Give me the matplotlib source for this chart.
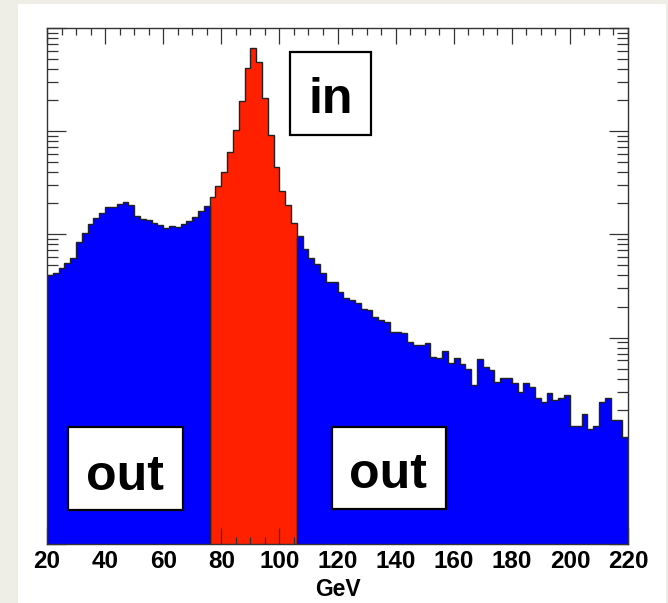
import numpy as np
import matplotlib

matplotlib.use("Agg")
import matplotlib.pyplot as plt
from matplotlib.patches import Rectangle

#####################################################
# data: invariant mass histogram, 2 GeV bins from 20 to 220 GeV
#####################################################

bin_lo = 20
bin_hi = 220
bin_width = 2

counts = [
    404, 425, 476, 525, 595, 850, 1040, 1253, 1432, 1623,
    1855, 1855, 1971, 2047, 1927, 1518, 1400, 1370, 1282, 1225,
    1161, 1206, 1188, 1253, 1340, 1484, 1686, 1898, 2318, 2944,
    4053, 6287, 10270, 19630, 41230, 63560, 47120, 21130, 9190, 4467,
    2635, 1915, 1282, 971, 722, 587, 517, 420, 348, 348,
    279, 240, 231, 215, 189, 185, 160, 148, 143, 113,
    113, 110, 91, 84, 84, 89, 65, 64, 74, 57,
    63, 55, 50, 35, 62, 52, 49, 37, 41, 41,
    36, 30, 36, 33, 26, 24, 29, 25, 26, 28,
    14, 14, 18, 13, 14, 24, 26, 16, 16, 11,
]

# mass window
win_lo = 76
win_hi = 106

x_ticks = [20, 40, 60, 80, 100, 120, 140, 160, 180, 200, 220]
x_label = "GeV"

box_texts = ["in", "out", "out"]

#####################################################
# plot
#####################################################

plt.rcParams["font.family"] = ["Liberation Sans", "DejaVu Sans"]

counts = np.array(counts, dtype=float)
edges = np.arange(bin_lo, bin_hi + bin_width, bin_width)
i_lo = np.searchsorted(edges, win_lo)
i_hi = np.searchsorted(edges, win_hi)

blue = "#0000ff"
red = "#ff2000"
line_col = "#222222"

fig = plt.figure(figsize=(6.68, 6.03), dpi=100)
fig.patch.set_facecolor("#eeeee6")
# white panel behind the pad
fig.patches.append(
    Rectangle((18 / 668, 0), 648 / 668, 599 / 603, transform=fig.transFigure,
              facecolor="white", edgecolor="none", zorder=-10)
)

ax = fig.add_axes([47 / 668, 59 / 603, 581 / 668, 516 / 603])
ax.set_facecolor("white")
ax.set_yscale("log")
ax.set_xlim(bin_lo, bin_hi)
ax.set_ylim(1, 1e5)

# red: inside window (drawn below the tick marks)
ax.stairs(counts[i_lo:i_hi], edges[i_lo:i_hi + 1], fill=True, color=red,
          baseline=1, zorder=1)
ax.stairs(counts[i_lo:i_hi], edges[i_lo:i_hi + 1], fill=False,
          color=line_col, lw=1.0, baseline=1, zorder=1.1)

# blue: outside window (covers the tick marks)
for a, b in [(0, i_lo), (i_hi, len(counts))]:
    ax.stairs(counts[a:b], edges[a:b + 1], fill=True, color=blue,
              baseline=1, zorder=2)
    ax.stairs(counts[a:b], edges[a:b + 1], fill=False, color=line_col,
              lw=1.0, baseline=1, zorder=2.1)

for sp in ax.spines.values():
    sp.set_color("#333333")
    sp.set_linewidth(1.0)
    sp.set_zorder(3)

ax.set_xticks(x_ticks)
ax.xaxis.set_minor_locator(matplotlib.ticker.MultipleLocator(5))
ax.yaxis.set_minor_locator(
    matplotlib.ticker.LogLocator(base=10, subs=np.arange(2, 10), numticks=20)
)
ax.tick_params(axis="both", which="both", direction="in", top=True,
               right=True, color="#333333", width=0.9)
ax.tick_params(axis="x", which="major", length=11.5, labelsize=17.5, pad=4)
ax.tick_params(axis="x", which="minor", length=5)
ax.tick_params(axis="y", which="major", length=13.5, labelleft=False)
ax.tick_params(axis="y", which="minor", length=8)
for lab in ax.get_xticklabels():
    lab.set_fontweight("bold")

ax.set_xlabel(x_label, fontsize=16.5, fontweight="bold", labelpad=4)

# labelled boxes (axes fractions)
boxes = [
    (0.418, 0.793, 0.140, 0.160, 0.488, 0.835),
    (0.037, 0.066, 0.197, 0.161, 0.134, 0.105),
    (0.490, 0.067, 0.197, 0.160, 0.587, 0.108),
]
for text, (bx, by, bw, bh, tx, ty) in zip(box_texts, boxes):
    ax.add_patch(Rectangle((bx, by), bw, bh, transform=ax.transAxes,
                           facecolor="white", edgecolor="black", lw=1.6,
                           zorder=5))
    ax.text(tx, ty, text, transform=ax.transAxes, ha="center",
            va="baseline", fontsize=36, fontweight="bold", zorder=6)

plt.savefig("out.png", dpi=100)
plt.close()
